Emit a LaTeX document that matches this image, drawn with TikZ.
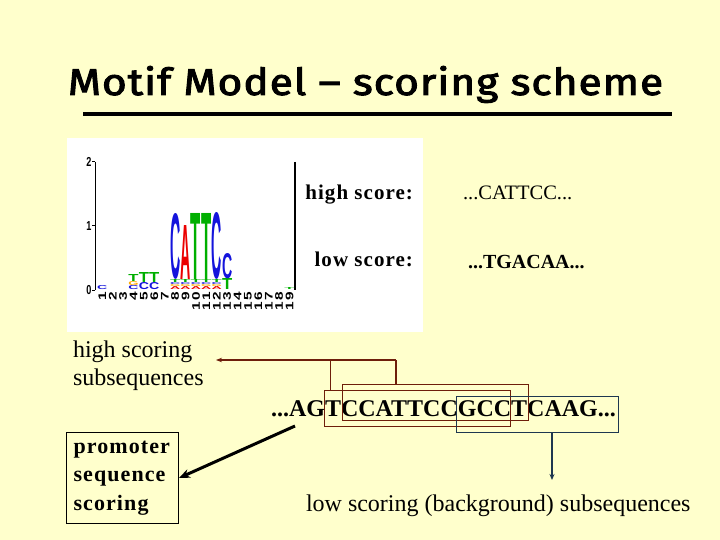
\documentclass[tikz,border=0pt]{standalone}
\usepackage{fontspec}
\setmainfont{Liberation Serif}
\newfontfamily\logofont{Liberation Sans}
\newfontfamily\titlefont{Fira Sans}[FakeBold=2.5,LetterSpace=2.5]
\newfontfamily\spacedserif{Liberation Serif}[LetterSpace=5]
\usetikzlibrary{arrows.meta}
\definecolor{bgyellow}{RGB}{255,255,204}
\definecolor{logoC}{RGB}{20,20,220}
\definecolor{logoA}{RGB}{235,0,0}
\definecolor{logoT}{RGB}{0,175,0}
\definecolor{logoG}{RGB}{255,170,0}
\definecolor{hibrown}{RGB}{110,30,10}
\definecolor{loblue}{RGB}{30,55,80}
\newcommand{\lgl}[5]{\node[anchor=south west,inner sep=0pt,outer sep=0pt,text=#4] at (#1,#2) {\resizebox{10.2pt}{#3pt}{\logofont\bfseries #5}};}
\newcommand{\smallstack}[1]{%
  \lgl{#1}{289.5}{3}{logoA}{A}
  \lgl{#1}{286.5}{2}{logoG}{G}
  \lgl{#1}{284.5}{2}{logoC}{C}
  \lgl{#1}{282.5}{3}{logoT}{T}}
\begin{document}
\begin{tikzpicture}[x=1pt,y=-1pt,
  plain/.style={inner sep=0pt,outer sep=0pt},
  scorelbl/.style={plain,font=\spacedserif\bfseries\fontsize{21}{25}\selectfont},
  seqtxt/.style={plain,font=\fontsize{20.5}{24}\selectfont},
  hibox/.style={draw=hibrown,line width=1pt,minimum width=#1,inner sep=0pt},
  brownline/.style={draw=hibrown,line width=1.5pt},
  blueline/.style={draw=loblue,line width=1.5pt}]
\useasboundingbox (0,0) rectangle (720,540);
\fill[bgyellow] (0,0) rectangle (720,540);
% title
\node[plain,anchor=base west] (title) at (68,95)
  {\resizebox{595pt}{29pt}{\titlefont Motif Model – scoring scheme}};
\coordinate (ul1) at (83,114.5);
\coordinate (ul2) at (672,114.5);
\draw[line width=4pt] (ul1) -- (ul2);
% logo panel
\fill[white] (67,138) rectangle (423,332);
\draw[line width=1pt] (95,162) -- (95,290);
\foreach \yy/\lab in {162/2,226/1,290/0}{
  \draw[line width=1pt] (92,\yy) -- (95,\yy);
  \node[plain,anchor=east,font=\logofont\bfseries\fontsize{13}{13}\selectfont] at (91.5,\yy) {\scalebox{0.7}[1]{\lab}};
}
\draw[line width=1.2pt] (295,162) -- (295,290);
\foreach \k in {1,...,19}{
  \pgfmathsetmacro\xx{97.2+(\k-1)*10.4+5.2}
  \pgfmathtruncatemacro\uu{mod(\k,10)}
  \node[plain,rotate=90,font=\logofont\bfseries\fontsize{11}{11}\selectfont] at (\xx,296) {\scalebox{1.4}[1]{\uu}};
  \ifnum\k>9
    \node[plain,rotate=90,font=\logofont\bfseries\fontsize{11}{11}\selectfont] at (\xx,306.5) {\scalebox{1.4}[1]{1}};
  \fi
}
% logo letters
\lgl{97.2}{289.5}{4}{logoC}{C}
\lgl{128.4}{289.5}{4}{logoC}{C}
\lgl{128.4}{285.5}{4}{logoG}{G}
\lgl{128.4}{281.5}{7}{logoT}{T}
\lgl{138.8}{289.5}{7}{logoC}{C}
\lgl{138.8}{282.5}{10}{logoT}{T}
\lgl{149.2}{289.5}{7}{logoC}{C}
\lgl{149.2}{282.5}{10}{logoT}{T}
\smallstack{170}
\smallstack{180.4}
\smallstack{190.8}
\smallstack{201.2}
\smallstack{211.6}
\lgl{170}{279.5}{65}{logoC}{C}
\lgl{180.4}{279.5}{54}{logoA}{A}
\lgl{190.8}{279.5}{66}{logoT}{T}
\lgl{201.2}{279.5}{66}{logoT}{T}
\lgl{211.6}{279.5}{66}{logoC}{C}
\lgl{222}{289.5}{11}{logoT}{T}
\lgl{222}{278.5}{25}{logoC}{C}
\lgl{284.4}{289.5}{2}{logoT}{T}
% score labels
\node[scorelbl,anchor=base east] (hl) at (413,200) {high score:};
\node[scorelbl,anchor=base east] (ll) at (413,266) {low score:};
\node[seqtxt,anchor=base west] (hseq) at (463,200) {...CATTCC...};
\node[seqtxt,anchor=base west,font=\bfseries\fontsize{20}{24}\selectfont] (lseq) at (468,268) {...TGACAA...};
% sequence
\node[plain,anchor=base west,font=\bfseries\fontsize{24}{28}\selectfont] (seq) at (271,416) {...AGTCCATTCCGCCTCAAG...};
\node[hibox=185.7pt,minimum height=36pt] (b1) at (417.2,408) {};
\node[hibox=186pt,minimum height=36.4pt] (b2) at (435.3,402.5) {};
\node[draw=loblue,line width=1pt,minimum width=161.6pt,minimum height=36.3pt,inner sep=0pt] (b3) at (537.5,414.2) {};
% high scoring
\node[plain,anchor=north west,align=left,font=\fontsize{24}{28}\selectfont] (hs) at (73,341) {high scoring\\subsequences};
\coordinate (j2) at (396,360);
\coordinate (j1) at (330.3,360);
\coordinate (hsend) at (216,360);
\draw[brownline] (b2.north -| j2) -- (j2);
\draw[brownline] (b1.north -| j1) -- (j1);
\draw[brownline,-{Stealth[length=6pt,width=4.5pt]}] (j2) -- (hsend);
% low scoring
\node[plain,anchor=base west,font=\fontsize{24}{28}\selectfont] (ls) at (306,511) {low scoring (background) subsequences};
\coordinate (lsend) at (552,480);
\draw[blueline,-{Stealth[length=6pt,width=5pt]}] (b3.south -| lsend) -- (lsend);
% promoter
\node[draw,line width=1pt,anchor=north west,align=left,text width=98pt,inner xsep=7pt,inner ysep=0pt,minimum height=91pt,
  font=\spacedserif\bfseries\fontsize{22}{28.5}\selectfont] (pb) at (66,432) {promoter\\sequence\\scoring};
\coordinate (pstart) at (295,426);
\draw[line width=3pt,-{Stealth[length=11pt,width=9pt]}] (pstart) -- (pb.east);
\end{tikzpicture}
\end{document}
